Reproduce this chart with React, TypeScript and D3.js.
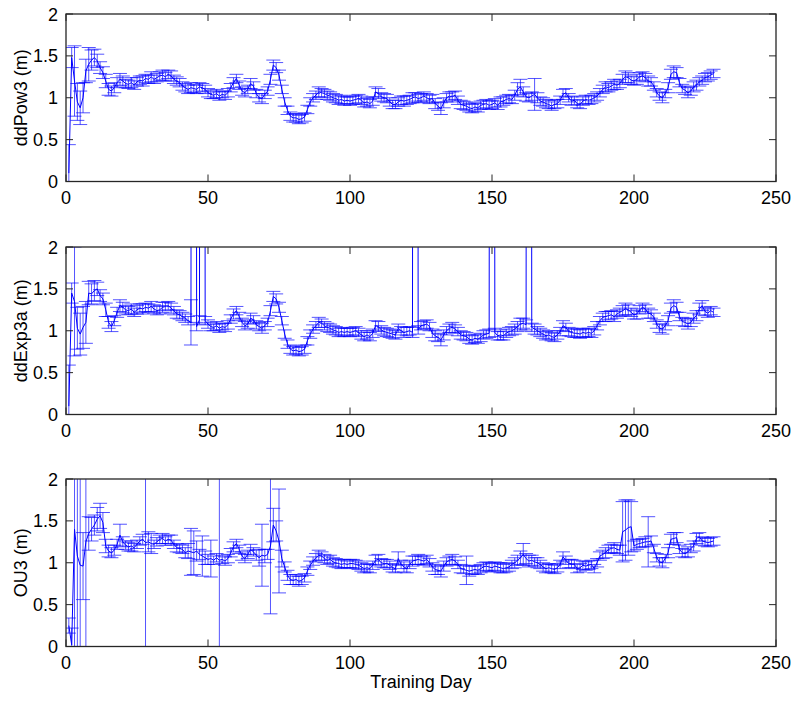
import * as d3 from 'd3'

// training days 1..228
const days: number[] = d3.range(1, 229)

const xTicks = [0, 50, 100, 150, 200, 250]
const yTicks = [0, 0.5, 1, 1.5, 2]
const yTickLabels = ['0', '0.5', '1', '1.5', '2']

// ddPow3 mean (m)
const pow3Mean = [
  0.10, 1.48, 1.20, 0.95, 0.88, 1.00, 1.32, 1.40, 1.45, 1.48,
  1.44, 1.36, 1.30, 1.20, 1.10, 1.08, 1.12, 1.18, 1.22, 1.20,
  1.17, 1.16, 1.18, 1.15, 1.19, 1.21, 1.20, 1.23, 1.22, 1.25,
  1.22, 1.24, 1.26, 1.27, 1.25, 1.28, 1.26, 1.22, 1.20, 1.18,
  1.14, 1.12, 1.10, 1.12, 1.11, 1.10, 1.13, 1.12, 1.10, 1.06,
  1.04, 1.03, 1.05, 1.02, 1.04, 1.03, 1.06, 1.12, 1.18, 1.23,
  1.15, 1.08, 1.06, 1.10, 1.17, 1.14, 1.05, 1.00, 0.99, 1.04,
  1.08, 1.22, 1.39, 1.36, 1.27, 1.10, 0.95, 0.85, 0.78, 0.76,
  0.76, 0.74, 0.75, 0.77, 0.86, 0.95, 1.00, 1.03, 1.07, 1.06,
  1.05, 1.03, 1.02, 1.00, 0.99, 0.97, 0.98, 0.96, 0.97, 0.96,
  0.97, 0.98, 0.99, 0.97, 0.94, 0.95, 0.93, 0.96, 1.07, 1.05,
  1.01, 1.00, 0.99, 0.95, 0.92, 0.92, 0.95, 0.97, 0.96, 0.97,
  0.98, 1.00, 1.01, 0.99, 1.00, 1.02, 1.00, 0.98, 0.99, 0.93,
  0.90, 0.87, 0.94, 1.00, 1.02, 1.01, 1.03, 0.97, 0.92, 0.91,
  0.90, 0.88, 0.87, 0.89, 0.88, 0.91, 0.92, 0.93, 0.91, 0.92,
  0.94, 0.91, 0.95, 0.96, 0.98, 0.99, 0.98, 1.03, 1.10, 1.13,
  1.07, 1.01, 1.00, 1.02, 1.04, 1.00, 0.96, 0.95, 0.93, 0.92,
  0.90, 0.92, 0.93, 0.97, 1.04, 1.06, 1.00, 0.96, 0.97, 0.93,
  0.92, 0.96, 0.98, 0.97, 0.98, 1.00, 1.02, 1.06, 1.10, 1.13,
  1.12, 1.14, 1.16, 1.15, 1.17, 1.22, 1.25, 1.24, 1.21, 1.20,
  1.22, 1.25, 1.26, 1.24, 1.20, 1.19, 1.14, 1.06, 1.02, 1.00,
  1.05, 1.12, 1.28, 1.31, 1.30, 1.18, 1.11, 1.09, 1.06, 1.08,
  1.13, 1.15, 1.19, 1.21, 1.24, 1.25, 1.27, 1.29,
]
// ddPow3 error, hundredths of a metre
const pow3Err = [
  34, 12, 42, 22, 20, 18, 14, 20, 12, 10,
  8, 7, 7, 8, 7, 6, 6, 6, 7, 6,
  5, 5, 6, 5, 5, 5, 6, 5, 5, 6,
  5, 5, 5, 6, 5, 5, 6, 5, 5, 5,
  5, 5, 5, 6, 5, 5, 5, 5, 5, 5,
  5, 4, 5, 5, 4, 5, 5, 5, 6, 5,
  5, 5, 5, 5, 6, 5, 5, 5, 6, 5,
  5, 6, 6, 6, 6, 5, 5, 5, 5, 5,
  5, 5, 5, 5, 5, 5, 5, 5, 6, 5,
  5, 5, 5, 5, 5, 5, 5, 5, 4, 5,
  5, 5, 5, 5, 5, 5, 5, 5, 6, 6,
  5, 5, 5, 5, 5, 5, 5, 5, 6, 5,
  5, 6, 5, 5, 5, 5, 5, 5, 5, 6,
  5, 7, 6, 5, 5, 6, 5, 5, 5, 5,
  5, 5, 5, 5, 5, 5, 5, 5, 5, 5,
  5, 5, 6, 5, 5, 5, 5, 6, 8, 9,
  6, 5, 5, 5, 19, 6, 5, 5, 5, 5,
  5, 5, 5, 5, 6, 5, 5, 5, 5, 5,
  5, 5, 5, 5, 5, 5, 5, 5, 5, 6,
  5, 5, 6, 5, 5, 6, 7, 6, 5, 5,
  6, 5, 5, 5, 6, 5, 5, 5, 5, 6,
  5, 6, 6, 7, 6, 5, 5, 5, 6, 5,
  6, 6, 5, 5, 5, 5, 5, 5,
]

// ddExp3a mean (m); a few days blow up far above the axis
const exp3aMean = [
  0.10, 1.45, 1.35, 1.03, 0.96, 1.04, 1.10, 1.45, 1.44, 1.48,
  1.50, 1.42, 1.38, 1.25, 1.10, 1.05, 1.12, 1.22, 1.30, 1.28,
  1.25, 1.24, 1.26, 1.22, 1.25, 1.27, 1.26, 1.28, 1.27, 1.29,
  1.26, 1.24, 1.25, 1.28, 1.29, 1.30, 1.27, 1.24, 1.20, 1.19,
  1.17, 1.15, 1.12, 1.10, 40.0, 1.05, 1.13, 40.0, 1.12, 1.08,
  1.05, 1.04, 1.06, 1.03, 1.05, 1.04, 1.07, 1.14, 1.20, 1.24,
  1.17, 1.10, 1.06, 1.08, 1.15, 1.13, 1.07, 1.05, 1.03, 1.06,
  1.10, 1.24, 1.41, 1.38, 1.28, 1.12, 0.96, 0.84, 0.78, 0.76,
  0.77, 0.75, 0.76, 0.78, 0.88, 0.96, 1.02, 1.06, 1.10, 1.09,
  1.06, 1.04, 1.03, 1.01, 1.00, 0.98, 0.99, 0.98, 0.99, 0.98,
  0.99, 1.00, 0.98, 0.95, 0.93, 0.95, 0.93, 0.97, 1.06, 1.05,
  1.01, 0.99, 0.98, 0.97, 0.96, 0.95, 1.03, 1.00, 0.98, 0.99,
  1.00, 0.98, 40.0, 1.01, 1.06, 1.07, 1.08, 1.05, 0.97, 0.94,
  0.92, 0.89, 0.95, 1.00, 1.03, 1.04, 1.02, 0.99, 0.95, 0.94,
  0.93, 0.90, 0.89, 0.91, 0.90, 0.92, 0.95, 0.96, 0.97, 40.0,
  0.98, 0.94, 0.95, 0.94, 0.97, 0.99, 1.00, 1.02, 1.05, 1.08,
  1.09, 1.07, 40.0, 1.04, 1.02, 1.00, 0.98, 0.96, 0.94, 0.95,
  0.93, 0.92, 0.95, 0.99, 1.06, 1.04, 0.99, 0.98, 0.97, 0.97,
  0.96, 0.98, 0.97, 0.98, 0.97, 1.00, 1.06, 1.12, 1.16, 1.17,
  1.18, 1.19, 1.17, 1.20, 1.22, 1.24, 1.26, 1.25, 1.22, 1.19,
  1.20, 1.25, 1.28, 1.26, 1.21, 1.20, 1.16, 1.08, 1.03, 1.02,
  1.06, 1.12, 1.27, 1.30, 1.28, 1.17, 1.11, 1.10, 1.08, 1.10,
  1.15, 1.18, 1.26, 1.30, 1.23, 1.21, 1.24, 1.22,
]
const exp3aErr = [
  49, 12, 65, 25, 25, 25, 25, 14, 12, 12,
  8, 7, 7, 8, 7, 6, 6, 6, 7, 6,
  5, 5, 6, 5, 5, 5, 6, 5, 5, 6,
  5, 5, 5, 6, 5, 5, 6, 5, 5, 5,
  5, 5, 5, 27, 5, 5, 5, 5, 5, 5,
  5, 4, 5, 5, 4, 5, 5, 5, 6, 5,
  5, 5, 5, 5, 6, 5, 5, 5, 6, 5,
  5, 6, 6, 6, 6, 5, 5, 5, 5, 5,
  5, 5, 5, 5, 5, 5, 5, 5, 6, 5,
  5, 5, 5, 5, 5, 5, 5, 5, 4, 5,
  5, 5, 5, 5, 5, 5, 5, 5, 6, 6,
  5, 5, 5, 5, 5, 5, 5, 5, 6, 5,
  5, 6, 5, 5, 5, 5, 5, 5, 5, 6,
  5, 7, 6, 5, 5, 6, 5, 5, 5, 5,
  5, 5, 5, 5, 5, 5, 5, 5, 5, 5,
  5, 5, 6, 5, 5, 5, 5, 6, 6, 7,
  6, 6, 5, 5, 6, 5, 5, 5, 5, 5,
  5, 5, 5, 5, 6, 5, 5, 5, 5, 5,
  5, 5, 5, 5, 5, 5, 5, 5, 5, 6,
  5, 5, 6, 5, 5, 6, 7, 6, 5, 5,
  6, 5, 5, 5, 6, 5, 5, 5, 5, 6,
  5, 6, 6, 7, 6, 5, 5, 5, 6, 5,
  6, 6, 7, 6, 5, 5, 5, 5,
]

// OU3 mean (m)
const ou3Mean = [
  0.25, 0.02, 1.40, 1.08, 0.97, 0.96, 1.25, 1.35, 1.40, 1.45,
  1.52, 1.56, 1.48, 1.20, 1.14, 1.12, 1.15, 1.22, 1.33, 1.25,
  1.21, 1.19, 1.20, 1.18, 1.22, 1.26, 1.28, 1.24, 1.25, 1.23,
  1.22, 1.25, 1.28, 1.29, 1.26, 1.28, 1.27, 1.22, 1.18, 1.17,
  1.16, 1.12, 1.14, 1.13, 1.12, 1.14, 1.10, 1.08, 1.06, 1.04,
  1.05, 1.03, 1.06, 1.03, 1.04, 1.02, 1.05, 1.12, 1.19, 1.23,
  1.16, 1.08, 1.05, 1.10, 1.16, 1.13, 1.09, 1.06, 1.09, 1.08,
  1.10, 1.20, 1.45, 1.38, 1.26, 1.05, 0.95, 0.85, 0.80, 0.79,
  0.80, 0.78, 0.79, 0.82, 0.90, 0.97, 1.02, 1.06, 1.09, 1.08,
  1.05, 1.03, 1.04, 1.01, 1.00, 0.99, 0.98, 0.99, 0.98, 0.99,
  0.99, 0.98, 0.97, 0.95, 0.93, 0.94, 0.93, 0.97, 1.03, 1.04,
  1.00, 0.99, 0.99, 0.97, 0.94, 0.93, 1.05, 0.98, 0.95, 0.93,
  0.98, 1.02, 1.03, 1.04, 1.03, 1.02, 1.04, 1.00, 0.95, 0.92,
  0.91, 0.90, 0.96, 1.01, 1.03, 1.04, 1.02, 0.98, 0.93, 0.92,
  0.91, 0.90, 0.91, 0.92, 0.91, 0.93, 0.95, 0.96, 0.95, 0.94,
  0.96, 0.95, 0.94, 0.93, 0.94, 0.95, 0.98, 1.00, 1.03, 1.06,
  1.10, 1.05, 1.02, 1.03, 1.01, 1.00, 0.98, 0.95, 0.93, 0.94,
  0.93, 0.92, 0.94, 0.98, 1.07, 1.03, 0.99, 0.99, 0.98, 0.93,
  0.94, 0.97, 0.96, 0.97, 0.98, 0.93, 1.00, 1.08, 1.10, 1.12,
  1.16, 1.17, 1.18, 1.16, 1.15, 1.37, 1.39, 1.42, 1.43, 1.20,
  1.22, 1.23, 1.24, 1.25, 1.25, 1.26, 1.17, 1.06, 1.01, 1.00,
  1.05, 1.12, 1.28, 1.29, 1.30, 1.16, 1.12, 1.11, 1.13, 1.17,
  1.20, 1.29, 1.31, 1.26, 1.25, 1.24, 1.25, 1.26,
]
const ou3Err = [
  9, 20, 200, 200, 200, 40, 150, 20, 14, 12,
  14, 15, 12, 8, 7, 6, 6, 6, 13, 6,
  5, 5, 6, 5, 5, 5, 6, 200, 12, 12,
  5, 5, 5, 6, 5, 5, 6, 5, 5, 5,
  5, 6, 9, 28, 26, 12, 6, 24, 8, 6,
  22, 5, 5, 200, 5, 5, 5, 5, 6, 5,
  5, 5, 5, 5, 6, 5, 6, 10, 37, 8,
  6, 81, 20, 12, 62, 10, 6, 6, 6, 5,
  6, 6, 5, 5, 5, 5, 5, 5, 6, 5,
  5, 5, 5, 5, 5, 5, 5, 5, 4, 5,
  5, 5, 5, 5, 5, 5, 5, 5, 6, 6,
  5, 5, 5, 5, 5, 5, 8, 5, 6, 5,
  5, 6, 5, 6, 5, 5, 5, 5, 5, 6,
  5, 7, 6, 5, 5, 6, 5, 5, 5, 5,
  17, 6, 5, 5, 5, 5, 5, 5, 5, 5,
  5, 5, 6, 5, 5, 5, 5, 6, 6, 8,
  13, 6, 7, 6, 5, 6, 5, 5, 5, 5,
  5, 5, 5, 5, 6, 5, 5, 5, 5, 5,
  5, 5, 5, 5, 5, 5, 5, 5, 5, 6,
  5, 5, 6, 5, 6, 36, 36, 33, 30, 6,
  6, 5, 5, 6, 30, 6, 5, 5, 5, 6,
  5, 6, 6, 7, 6, 5, 5, 5, 6, 5,
  6, 6, 5, 5, 5, 5, 5, 5,
]

const panels = [
  { id: 'p1', label: 'ddPow3 (m)', mean: pow3Mean, err: pow3Err, top: 14 },
  { id: 'p2', label: 'ddExp3a (m)', mean: exp3aMean, err: exp3aErr, top: 247 },
  { id: 'p3', label: 'OU3 (m)', mean: ou3Mean, err: ou3Err, top: 479 },
]

const W = 800
const H = 703
const left = 66
const right = 776
const panelH = 167.5
const tickLen = 7
const capHalf = 7
const font = '"Liberation Sans", Arial, Helvetica, sans-serif'

const Panel = ({ p }: { p: typeof panels[number] }) => {
  const bottom = p.top + panelH
  const x = d3.scaleLinear().domain([0, 250]).range([left, right])
  const y = d3.scaleLinear().domain([0, 2]).range([bottom, p.top])

  const pts = days.map((d, i) => ({ d, m: p.mean[i], e: p.err[i] / 100 }))

  const line = d3.line<{ d: number; m: number }>()
    .x((q) => x(q.d))
    .y((q) => y(q.m))

  // errorbars: vertical stem plus two caps
  const bars = pts.map((q) => {
    const xx = x(q.d)
    const y0 = y(q.m - q.e)
    const y1 = y(q.m + q.e)
    return `M${xx},${y0}V${y1}M${xx - capHalf},${y0}H${xx + capHalf}M${xx - capHalf},${y1}H${xx + capHalf}`
  }).join('')

  return (
    <g>
      <clipPath id={`clip-${p.id}`}>
        <rect x={left} y={p.top} width={right - left} height={panelH} />
      </clipPath>
      <g clipPath={`url(#clip-${p.id})`}>
        <path d={bars} fill="none" stroke="#0000ff" strokeOpacity={0.75} strokeWidth={0.9} />
        <path d={line(pts) ?? ''} fill="none" stroke="#0000ff" strokeWidth={1} />
      </g>

      {xTicks.map((t) => (
        <g key={`x${t}`}>
          <line x1={x(t)} x2={x(t)} y1={bottom} y2={bottom - tickLen} stroke="#262626" />
          <line x1={x(t)} x2={x(t)} y1={p.top} y2={p.top + tickLen} stroke="#262626" />
          <text x={x(t)} y={bottom + 22} textAnchor="middle" fontSize={18} fontFamily={font} fill="#000">
            {t}
          </text>
        </g>
      ))}
      {yTicks.map((t, i) => (
        <g key={`y${t}`}>
          <line x1={left} x2={left + tickLen} y1={y(t)} y2={y(t)} stroke="#262626" />
          <line x1={right} x2={right - tickLen} y1={y(t)} y2={y(t)} stroke="#262626" />
          <text x={left - 8} y={y(t) + 6.5} textAnchor="end" fontSize={18} fontFamily={font} fill="#000">
            {yTickLabels[i]}
          </text>
        </g>
      ))}
      <rect x={left} y={p.top} width={right - left} height={panelH} fill="none" stroke="#262626" strokeWidth={1.3} />

      <text
        transform={`translate(27,${(p.top + bottom) / 2}) rotate(-90)`}
        textAnchor="middle"
        fontSize={18}
        fontFamily={font}
        fill="#000"
      >
        {p.label}
      </text>
    </g>
  )
}

const App = () => {
  return (
    <svg
      width={W}
      height={H}
      viewBox={`0 0 ${W} ${H}`}
      style={{ position: 'absolute', left: 0, top: 0, display: 'block', background: '#fff' }}
    >
      <rect width={W} height={H} fill="#fff" />
      {panels.map((p) => <Panel key={p.id} p={p} />)}
      <text x={(left + right) / 2} y={688} textAnchor="middle" fontSize={18} fontFamily={font} fill="#000">
        Training Day
      </text>
    </svg>
  )
}

export default App
